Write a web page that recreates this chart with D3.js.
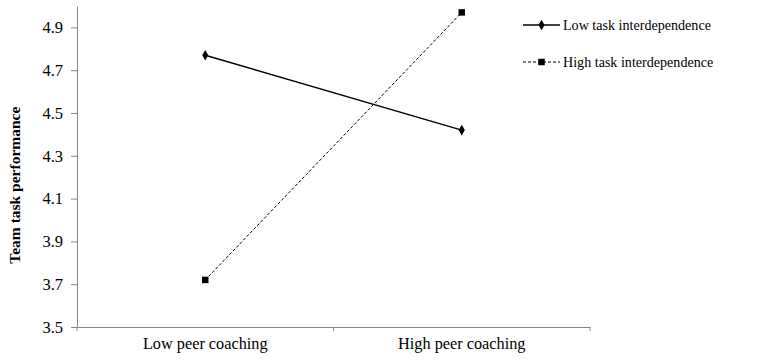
<!DOCTYPE html>
<html>
<head>
<meta charset="utf-8">
<script src="https://cdn.jsdelivr.net/npm/d3@7"></script>
<style>
  body { margin: 0; background: #fff; }
</style>
</head>
<body>
<div class="chart"></div>
<script>
// data
const categories = ['Low peer coaching', 'High peer coaching'];
const seriesNames = ['Low task interdependence', 'High task interdependence'];
const lowTask = [4.77, 4.42];
const highTask = [3.72, 4.97];
const yTicks = [3.5, 3.7, 3.9, 4.1, 4.3, 4.5, 4.7, 4.9];

const width = 765, height = 360;
const margin = { top: 6, left: 77, right: 175, bottom: 33 };

// serif font, set on each text directly
const serif = (sel, size, bold) => sel.attr('style',
  `font-family:'Liberation Serif';font-size:${size}px;font-weight:${bold ? 'bold' : 'normal'};fill:#000`);

const svg = d3.select('.chart').append('svg')
  .attr('width', width).attr('height', height);

const x = d3.scaleBand().domain(categories)
  .range([margin.left, width - margin.right]);
const y = d3.scaleLinear().domain([3.5, 5.0])
  .range([height - margin.bottom, margin.top]);

// y axis
const yAxis = d3.axisLeft(y).tickValues(yTicks).tickFormat(d3.format('.1f'))
  .tickSizeInner(6).tickSizeOuter(0);
const yg = svg.append('g').attr('transform', `translate(${margin.left},0)`).call(yAxis);
yg.select('.domain').attr('stroke', '#868686');
yg.selectAll('.tick line').attr('stroke', '#868686');
serif(yg.selectAll('.tick text').attr('x', -14), 16.5);

// x axis
const xAxis = d3.axisBottom(x).tickSize(0).tickSizeOuter(0);
const xg = svg.append('g').attr('transform', `translate(0,${y(3.5)})`).call(xAxis);
xg.select('.domain').attr('stroke', '#868686');
serif(xg.selectAll('.tick text').attr('y', 10), 16.3);
// band separator ticks
const edges = [x.range()[0], ...categories.slice(1).map(c => x(c)), x.range()[1]];
xg.selectAll('.sep').data(edges).join('line')
  .attr('class', 'sep')
  .attr('x1', d => d).attr('x2', d => d)
  .attr('y1', 0).attr('y2', 4)
  .attr('stroke', '#868686');

// y title
serif(svg.append('text')
  .attr('transform', `translate(20,${y(4.2) + 8}) rotate(-90)`)
  .attr('text-anchor', 'middle')
  .text('Team task performance'), 15.5, true);

const cx = d => x(d) + x.bandwidth() / 2;
const line = d3.line().x((d, i) => cx(categories[i])).y(d => y(d));

const diamond = d3.symbol().type(d3.symbolDiamond).size(32);
const square = d3.symbol().type(d3.symbolSquare).size(42);

// low task
svg.append('path').datum(lowTask).attr('d', line)
  .attr('fill', 'none').attr('stroke', '#000').attr('stroke-width', 1.5);
svg.selectAll('.dm').data(lowTask).join('path')
  .attr('class', 'dm')
  .attr('transform', (d, i) => `translate(${cx(categories[i])},${y(d)})`)
  .attr('d', diamond);

// high task
svg.append('path').datum(highTask).attr('d', line)
  .attr('fill', 'none').attr('stroke', '#000').attr('stroke-width', 1)
  .attr('stroke-dasharray', '3,2');
svg.selectAll('.sq').data(highTask).join('path')
  .attr('class', 'sq')
  .attr('transform', (d, i) => `translate(${cx(categories[i])},${y(d)})`)
  .attr('d', square);

// legend
const legend = svg.append('g').attr('transform', 'translate(523,0)');
const rows = [
  { name: seriesNames[0], yy: 25, dash: null, sym: diamond, w: 1.5 },
  { name: seriesNames[1], yy: 62, dash: '3,2', sym: square, w: 1 }
];
rows.forEach(r => {
  legend.append('line').attr('x1', 0).attr('x2', 37)
    .attr('y1', r.yy).attr('y2', r.yy)
    .attr('stroke', '#000').attr('stroke-width', r.w)
    .attr('stroke-dasharray', r.dash);
  legend.append('path').attr('transform', `translate(18.5,${r.yy})`).attr('d', r.sym);
  serif(legend.append('text').attr('x', 40).attr('y', r.yy + 5).text(r.name), 14.1);
});
</script>
</body>
</html>
